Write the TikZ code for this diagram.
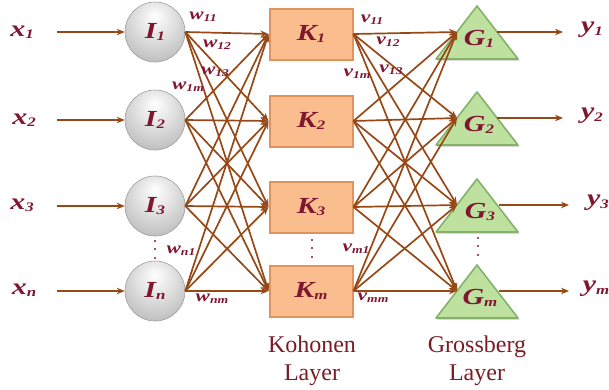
\documentclass[tikz,border=0pt]{standalone}
\usepackage{fontspec}
\setmainfont{Liberation Serif}
\newfontfamily\labfont[FakeStretch=1.3,BoldItalicFeatures={FakeStretch=1.3}]{Liberation Serif}
\usetikzlibrary{arrows.meta,shadows}

\definecolor{ink}{RGB}{128,22,48}
\definecolor{wirebrown}{RGB}{150,72,22}
\definecolor{peach}{RGB}{250,190,142}
\definecolor{peachedge}{RGB}{226,146,90}
\definecolor{leaf}{RGB}{190,225,160}
\definecolor{leafedge}{RGB}{132,178,104}
\definecolor{layertext}{RGB}{122,28,36}

% grey sphere with the highlight near the top
\pgfdeclareradialshading{greysphere}{\pgfpoint{0bp}{14bp}}{%
  color(0bp)=(white); color(16bp)=(black!12); color(36bp)=(black!28);
  color(52bp)=(black!45); color(66bp)=(black!60)}

\newcommand\bigsub[1]{\raisebox{-0.1em}{\fontsize{13}{13}\selectfont #1}}
\newcommand\smallsub[1]{\raisebox{-0.1em}{\fontsize{10.5}{10.5}\selectfont #1}}

\tikzset{
  lab/.style={text=ink, font=\labfont\bfseries\itshape\fontsize{23}{23}\selectfont, inner sep=0pt},
  wlab/.style={text=ink, font=\labfont\bfseries\itshape\fontsize{16.5}{16.5}\selectfont, inner sep=0pt},
  inputnode/.style={lab, circle, minimum size=60pt, shade, shading=greysphere,
    draw=black!38, line width=0.6pt},
  kbox/.style={lab, rectangle, minimum width=83pt, minimum height=51pt, fill=peach,
    draw=peachedge, line width=2pt,
    drop shadow={shadow xshift=1.5pt, shadow yshift=-1.5pt, fill=black!45, opacity=0.6}},
  tri/.style={fill=leaf, draw=leafedge, line width=1.6pt, line join=round,
    drop shadow={shadow xshift=1.5pt, shadow yshift=-1.5pt, fill=black!45, opacity=0.5}},
  link/.style={draw=wirebrown, line width=1.7pt, -{Stealth[length=8pt,width=6.5pt]}},
  dotmark/.style={circle, fill=ink, inner sep=0pt, minimum size=2.4pt},
  layer/.style={text=layertext, font=\fontsize{24}{28}\selectfont, align=center, inner sep=0pt}
}

\begin{document}
\begin{tikzpicture}[x=1pt,y=-1pt]
\useasboundingbox (0,0) rectangle (609,389);

% input labels and their arrow tails
\node[lab] (x1) at (22,32)  {x\bigsub{1}};
\node[lab] (x2) at (24,120) {x\bigsub{2}};
\node[lab] (x3) at (22,205) {x\bigsub{3}};
\node[lab] (xn) at (24,290) {x\bigsub{n}};
\coordinate (x1s) at (57,32);
\coordinate (x2s) at (57,120);
\coordinate (x3s) at (57,206);
\coordinate (xns) at (57,291);

% input layer
\node[inputnode] (I1) at (155,32)  {I\bigsub{1}};
\node[inputnode] (I2) at (155,120) {I\bigsub{2}};
\node[inputnode] (I3) at (155,206) {I\bigsub{3}};
\node[inputnode] (In) at (155,291) {I\bigsub{n}};

% Kohonen layer
\node[kbox] (K1) at (311,34)  {K\bigsub{1}};
\node[kbox] (K2) at (311,121) {K\bigsub{2}};
\node[kbox] (K3) at (311,207) {K\bigsub{3}};
\node[kbox] (Km) at (311,291) {K\bigsub{m}};

% Grossberg layer (triangles)
\foreach \r in {32,118,205,291}{
  \path[tri] (436,\r+27) -- (477,\r-26) -- (518,\r+27) -- cycle;
}
\node[lab] (G1) at (479,39)  {G\bigsub{1}};
\node[lab] (G2) at (479,125) {G\bigsub{2}};
\node[lab] (G3) at (480,212) {G\bigsub{3}};
\node[lab] (Gm) at (480,298) {G\bigsub{m}};
\coordinate (G1in) at (457,32);
\coordinate (G2in) at (457,118);
\coordinate (G3in) at (457,205);
\coordinate (Gmin) at (457,291);
\coordinate (G1out) at (497,32);
\coordinate (G2out) at (497,118);
\coordinate (G3out) at (499,205);
\coordinate (Gmout) at (499,291);
\coordinate (y1e) at (563,32);
\coordinate (y2e) at (563,118);
\coordinate (y3e) at (569,205);
\coordinate (yme) at (569,291);

% outputs
\node[lab] (y1) at (592,30)  {y\bigsub{1}};
\node[lab] (y2) at (592,116) {y\bigsub{2}};
\node[lab] (y3) at (598,203) {y\bigsub{3}};
\node[lab] (ym) at (596,289) {y\bigsub{m}};

% input arrows
\draw[link] (x1s) -- (I1.west);
\draw[link] (x2s) -- (I2.west);
\draw[link] (x3s) -- (I3.west);
\draw[link] (xns) -- (In.west);

% full connections input -> Kohonen
\foreach \i in {I1,I2,I3,In}
  \foreach \k in {K1,K2,K3,Km}
    \draw[link] (\i.east) -- (\k.west);

% full connections Kohonen -> Grossberg
\foreach \k in {K1,K2,K3,Km}
  \foreach \g in {G1in,G2in,G3in,Gmin}
    \draw[link] (\k.east) -- (\g);

% output arrows
\draw[link] (G1out) -- (y1e);
\draw[link] (G2out) -- (y2e);
\draw[link] (G3out) -- (y3e);
\draw[link] (Gmout) -- (yme);

% weight labels
\node[wlab] (w11) at (203,17) {w\smallsub{11}};
\node[wlab] (w12) at (217,45) {w\smallsub{12}};
\node[wlab] (w13) at (215,72) {w\smallsub{13}};
\node[wlab] (w1m) at (188,87) {w\smallsub{1m}};
\node[wlab] (wn1) at (181,251) {w\smallsub{n1}};
\node[wlab] (wnm) at (212,299) {w\smallsub{nm}};
\node[wlab] (v11) at (372,20) {v\smallsub{11}};
\node[wlab] (v12) at (388,42) {v\smallsub{12}};
\node[wlab] (v13) at (391,70) {v\smallsub{13}};
\node[wlab] (v1m) at (357,74) {v\smallsub{1m}};
\node[wlab] (vm1) at (356,249) {v\smallsub{m1}};
\node[wlab] (vmm) at (373,298) {v\smallsub{mm}};

% vertical ellipses
\foreach \yy [count=\n] in {241,249,258}{
  \node[dotmark] (da\n) at (155,\yy) {};
  \node[dotmark] (db\n) at (312,\yy-1) {};
  \node[dotmark] (dc\n) at (478,\yy-3) {};
}

% layer captions
\node[layer, anchor=north] (kohonen) at (312,336) {Kohonen\\Layer};
\node[layer, anchor=north] (grossberg) at (477,336) {Grossberg\\Layer};
\end{tikzpicture}
\end{document}
